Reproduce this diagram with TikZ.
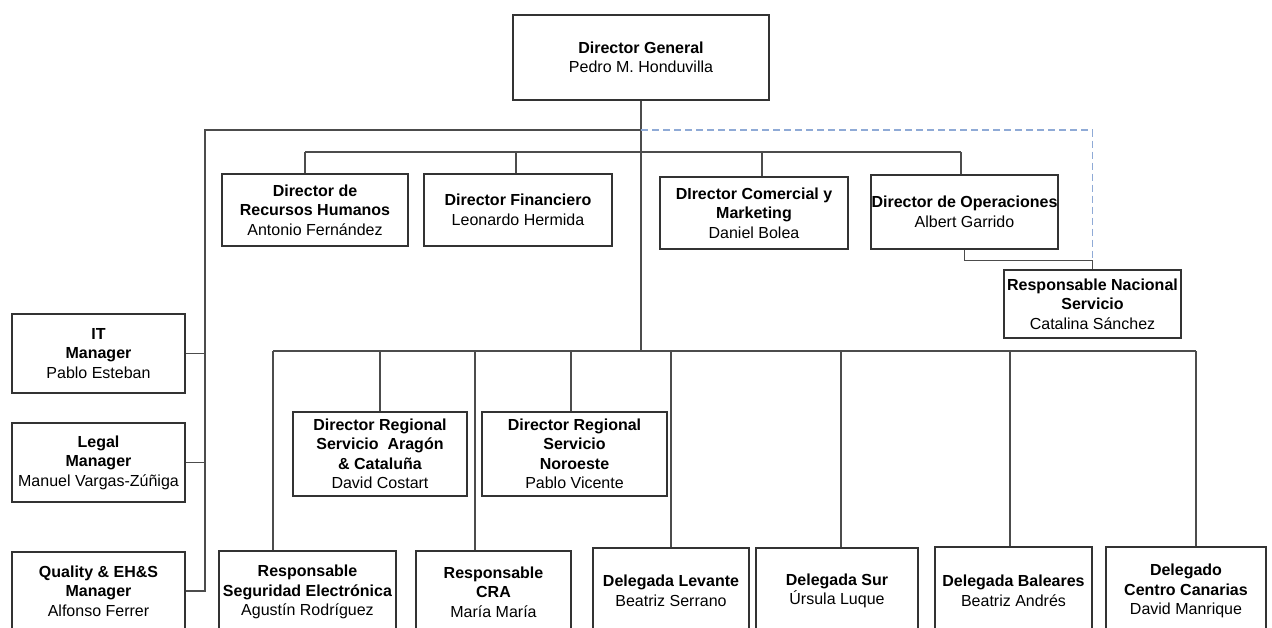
\documentclass[tikz,border=0pt]{standalone}
\usepackage{fontspec}
\setmainfont{Liberation Sans}
\definecolor{dashblue}{HTML}{8FAAD6}

\begin{document}
\begin{tikzpicture}[x=1pt,y=-1pt,
        box/.style={draw=black!80,line width=1.3pt,inner sep=0pt,align=center,
            font=\fontsize{16}{19.5}\selectfont},
        link/.style={draw=black!70,line width=1.1pt},
        dotlink/.style={draw=dashblue,line width=1.1pt,dash pattern=on 7pt off 4pt}
    ]
    \useasboundingbox (0,0) rectangle (1272,627);
    \clip (0,0) rectangle (1272,627);

    % top
    \node[box,minimum width=256,minimum height=85] (dg) at (641,57.5)
        {\textbf{Director General}\\Pedro M. Honduvilla};

    % directors
    \node[box,minimum width=186,minimum height=72] (rrhh) at (315,210)
        {\textbf{Director de}\\\textbf{Recursos Humanos}\\Antonio Fernández};
    \node[box,minimum width=188,minimum height=72] (fin) at (518,210)
        {\textbf{Director Financiero}\\Leonardo Hermida};
    \node[box,minimum width=188,minimum height=72] (com) at (754,213)
        {\textbf{DIrector Comercial y}\\\textbf{Marketing}\\Daniel Bolea};
    \node[box,minimum width=187,minimum height=74] (ops) at (964.5,212)
        {\textbf{Director de Operaciones}\\Albert Garrido};
    \node[box,minimum width=177,minimum height=68] (resp) at (1092.5,304)
        {\textbf{Responsable Nacional}\\\textbf{Servicio}\\Catalina Sánchez};

    % staff on the left
    \node[box,minimum width=173,minimum height=79] (it) at (98.5,353.5)
        {\textbf{IT}\\\textbf{Manager}\\Pablo Esteban};
    \node[box,minimum width=173,minimum height=79] (legal) at (98.5,462.5)
        {\textbf{Legal}\\\textbf{Manager}\\Manuel Vargas-Zúñiga};
    \node[box,minimum width=173,minimum height=78] (qual) at (98.5,591)
        {\textbf{Quality \& EH\&S}\\\textbf{Manager}\\Alfonso Ferrer};

    % regional
    \node[box,minimum width=174,minimum height=84] (arag) at (380,454)
        {\textbf{Director Regional}\\\textbf{Servicio~ Aragón}\\\textbf{\& Cataluña}\\David Costart};
    \node[box,minimum width=185,minimum height=84] (noro) at (574.5,454)
        {\textbf{Director Regional}\\\textbf{Servicio}\\\textbf{Noroeste}\\Pablo Vicente};

    % bottom row
    \node[box,minimum width=177,minimum height=82] (seg) at (307.5,592)
        {\textbf{Responsable}\\\textbf{Seguridad Electrónica}\\Agustín Rodríguez};
    \node[box,minimum width=155,minimum height=82] (cra) at (493.5,592)
        {\textbf{Responsable}\\\textbf{CRA}\\María María};
    \node[box,minimum width=156,minimum height=86] (lev) at (671,591)
        {\textbf{Delegada Levante}\\Beatriz Serrano};
    \node[box,minimum width=162,minimum height=86] (sur) at (837,591)
        {\textbf{Delegada Sur}\\Úrsula Luque};
    \node[box,minimum width=157,minimum height=88] (bal) at (1013.5,591)
        {\textbf{Delegada Baleares}\\Beatriz Andrés};
    \node[box,minimum width=160,minimum height=88] (can) at (1186,591)
        {\textbf{Delegado}\\\textbf{Centro Canarias}\\David Manrique};

    \coordinate (tl) at (205,130);
    \coordinate (dbus) at (0,152);
    \coordinate (lbus) at (0,351);

    % left staff line
    \draw[link] (dg.south |- tl) -- (tl) -- (tl |- qual.east) -- (qual.east);
    \foreach \n in {it,legal}
        \draw[link] (\n.east) -- (\n.east -| tl);

    % main vertical
    \draw[link] (dg.south) -- (dg.south |- lbus);

    % directors bus
    \foreach \n/\s in {rrhh/-10,fin/-2,com/8,ops/-3.5}
        \coordinate (\n-top) at ([xshift=\s]\n.north);
    \draw[link] (rrhh-top |- dbus) -- (ops-top |- dbus);
    \foreach \n in {rrhh,fin,com,ops}
        \draw[link] (\n-top) -- (\n-top |- dbus);

    % operaciones -> nacional
    \draw[link] (ops.south) -- ++(0,11) -| (resp.north);
    \draw[dotlink] (dg.south |- tl) -| ([yshift=10]resp.north);

    % lower bus
    \foreach \n/\s in {seg/-34.5,arag/0,cra/-18.5,noro/-3.5,lev/0,sur/4,bal/-3.5,can/10}
        \coordinate (\n-top) at ([xshift=\s]\n.north);
    \draw[link] (seg-top |- lbus) -- (can-top |- lbus);
    \foreach \n in {seg,arag,cra,noro,lev,sur,bal,can}
        \draw[link] (\n-top) -- (\n-top |- lbus);
\end{tikzpicture}
\end{document}
